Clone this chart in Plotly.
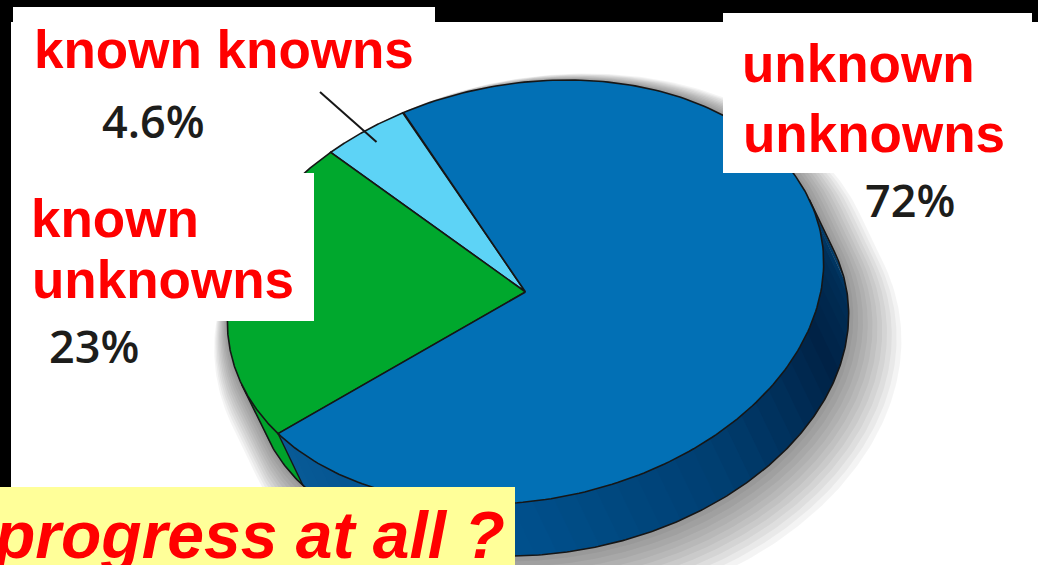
import numpy as np
import plotly.graph_objects as go

W, H = 1038, 565

# ---- data -------------------------------------------------------------
slice_names = ["known knowns", "known unknowns", "unknown unknowns"]
slice_values = [4.6, 23.0, 72.0]
top_colors = ["#5dd3f6", "#00a82d", "#0270b5"]
side_colors = ["#4cbde2", "#00a32b", None]      # None -> shaded gradient

# red caption lines: (text, ink centre x, baseline y)
caption_lines = [
    ("known knowns", 224, 68),
    ("unknown", 858, 82),
    ("unknowns", 874, 152),
    ("known", 115, 237),
    ("unknowns", 163, 298),
]
# percentage label anchors (centre x, baseline y), same order as slices
pct_anchor = [(153.5, 138), (93.5, 363), (910, 217)]
footer_text = "progress at all ?"

# ---- tilted-disc geometry (screen pixels) -----------------------------
CX, CY = 525.5, 292.0
RA, RB = 301.0, 208.0
TILT = np.deg2rad(10.9)
DEPTH = (25.0, 52.0)
START_DEG = 106.6
LINE_COL = "#161616"


def rim(t_deg, r=1.0, off=(0.0, 0.0), ra=RA, rb=RB):
    t = np.deg2rad(np.asarray(t_deg, dtype=float))
    u = ra * r * np.cos(t)
    v = rb * r * np.sin(t)
    x = u * np.cos(TILT) - v * np.sin(TILT)
    yu = u * np.sin(TILT) + v * np.cos(TILT)
    return CX + x + off[0], CY - yu + off[1]


# range of the rim whose side wall faces the viewer
dxu, dyu = DEPTH[0], -DEPTH[1]
dpx = dxu * np.cos(TILT) + dyu * np.sin(TILT)
dpy = -dxu * np.sin(TILT) + dyu * np.cos(TILT)
tc = np.degrees(np.arctan2(RA * dpy, RB * dpx)) % 360
VIS0, VIS1 = tc - 90, tc + 90

vals = np.array(slice_values)
bounds = START_DEG + 360 * np.concatenate([[0], np.cumsum(vals)]) / vals.sum()

fig = go.Figure()


def poly(xs, ys, fill, line_w=0.0, opacity=1.0):
    fig.add_trace(go.Scatter(
        x=list(xs), y=list(ys), mode="lines", fill="toself",
        fillcolor=fill, opacity=opacity,
        line=dict(color=LINE_COL if line_w > 0 else "rgba(0,0,0,0)",
                  width=line_w if line_w > 0 else 0.1),
        hoverinfo="skip", showlegend=False))


def silhouette(ra, rb, off):
    ts_top = np.linspace(VIS1, VIS0 + 360, 200)
    ts_bot = np.linspace(VIS0, VIS1, 200)
    x1, y1 = rim(ts_top, off=off, ra=ra, rb=rb)
    x2, y2 = rim(ts_bot, off=(off[0] + DEPTH[0], off[1] + DEPTH[1]), ra=ra, rb=rb)
    return np.concatenate([x1, x2, x1[:1]]), np.concatenate([y1, y2, y1[:1]])


# soft drop shadow, cast towards the lower right
for k in np.arange(0, 34, 3):
    sx, sy = silhouette(RA + k, RB + k, (0.6 * k, 0.8 * k))
    poly(sx, sy, "rgba(0,0,0,0.045)")

# side wall
stops_t = [195, 260, 300, 335, 355, 375]
stops_c = [(10, 92, 152), (0, 80, 140), (0, 62, 112), (0, 34, 70), (0, 46, 86), (0, 74, 128)]


def side_shade(t):
    t = min(max(t, stops_t[0]), stops_t[-1])
    c = [np.interp(t, stops_t, [s[i] for s in stops_c]) for i in range(3)]
    return "rgb(%d,%d,%d)" % tuple(int(round(v)) for v in c)


def band(t0, t1, n=30):
    ts = np.linspace(t0, t1, n)
    xa, ya = rim(ts)
    xb, yb = rim(ts[::-1], off=DEPTH)
    return np.concatenate([xa, xb, xa[:1]]), np.concatenate([ya, yb, ya[:1]])


edges = []
for i in range(len(vals)):
    s, e = bounds[i], bounds[i + 1]
    for sh in (-360, 0, 360):
        lo, hi = max(s, VIS0 + sh), min(e, VIS1 + sh)
        if hi <= lo:
            continue
        if side_colors[i] is None:
            steps = np.linspace(lo, hi, 41)
            for a, b in zip(steps[:-1], steps[1:]):
                bx, by = band(a, min(b + 0.6, hi), 6)
                tm = 0.5 * (a + b) - sh
                poly(bx, by, side_shade(tm + (360 if tm < 180 else 0)))
        else:
            bx, by = band(lo, hi)
            poly(bx, by, side_colors[i])
        for t_edge in (s, e):
            if VIS0 + sh < t_edge < VIS1 + sh:
                edges.append(t_edge)

# side wall outline
ts = np.linspace(VIS0, VIS1, 300)
ox, oy = rim(ts, off=DEPTH)
p0 = rim(VIS0)
p1 = rim(VIS1)
fig.add_trace(go.Scatter(
    x=[float(p0[0])] + list(ox) + [float(p1[0])],
    y=[float(p0[1])] + list(oy) + [float(p1[1])],
    mode="lines", line=dict(color=LINE_COL, width=1.6),
    hoverinfo="skip", showlegend=False))
for t_edge in set(np.round(edges, 4)):
    a = rim(t_edge)
    b = rim(t_edge, off=DEPTH)
    fig.add_trace(go.Scatter(x=[float(a[0]), float(b[0])], y=[float(a[1]), float(b[1])],
                             mode="lines", line=dict(color=LINE_COL, width=1.4),
                             hoverinfo="skip", showlegend=False))

# top face slices
for i in range(len(vals)):
    ts = np.linspace(bounds[i], bounds[i + 1], 240)
    ax_, ay_ = rim(ts)
    xs = np.concatenate([[CX], ax_, [CX]])
    ys = np.concatenate([[CY], ay_, [CY]])
    poly(xs, ys, top_colors[i], line_w=1.6)

# ---- frame, caption boxes ---------------------------------------------
shapes = [
    dict(type="rect", x0=11, x1=W, y0=22, y1=H, fillcolor="white",
         line=dict(width=0), layer="below"),
    dict(type="rect", x0=13, x1=435, y0=7, y1=90, fillcolor="white",
         line=dict(width=0), layer="above"),
    dict(type="rect", x0=723, x1=1032, y0=13, y1=173, fillcolor="white",
         line=dict(width=0), layer="above"),
    dict(type="rect", x0=11, x1=314, y0=173, y1=321, fillcolor="white",
         line=dict(width=0), layer="above"),
    dict(type="rect", x0=0, x1=515, y0=487, y1=H, fillcolor="#ffff99",
         line=dict(width=0), layer="above"),
]
# leader from the small slice to its caption
mid = 0.5 * (bounds[0] + bounds[1])
lx, ly = rim(mid, r=0.93)
shapes.append(dict(type="line", x0=320, y0=92, x1=float(lx), y1=float(ly),
                   line=dict(color=LINE_COL, width=2), layer="above"))

annotations = []
RED_FS = 53
for txt, x, base in caption_lines:
    annotations.append(dict(
        x=x, y=base - 0.3465 * RED_FS, text=txt, showarrow=False,
        xanchor="center", yanchor="middle",
        font=dict(family="Liberation Sans, Arial, sans-serif", size=RED_FS,
                  color="#ff0000", weight="bold")))

PCT_FS = 45
for v, (x, base) in zip(slice_values, pct_anchor):
    annotations.append(dict(
        x=x, y=base - 0.388 * PCT_FS, text=f"{v:g}%", showarrow=False,
        xanchor="center", yanchor="middle",
        font=dict(family="Open Sans, Noto Sans, sans-serif", size=PCT_FS,
                  color="#1d1d1b", weight=600)))

FOOT_FS = 66
annotations.append(dict(
    x=507, y=558 - 0.3465 * FOOT_FS, text=footer_text, showarrow=False,
    xanchor="right", yanchor="middle",
    font=dict(family="Liberation Sans, Arial, sans-serif", size=FOOT_FS,
              color="#ff0000", weight="bold", style="italic")))

fig.update_layout(
    width=W, height=H, autosize=False,
    margin=dict(l=0, r=0, t=0, b=0, pad=0),
    paper_bgcolor="black", plot_bgcolor="black",
    xaxis=dict(range=[0, W], visible=False, fixedrange=True),
    yaxis=dict(range=[H, 0], visible=False, fixedrange=True),
    shapes=shapes, annotations=annotations, showlegend=False,
)

fig.write_html("out.html")
